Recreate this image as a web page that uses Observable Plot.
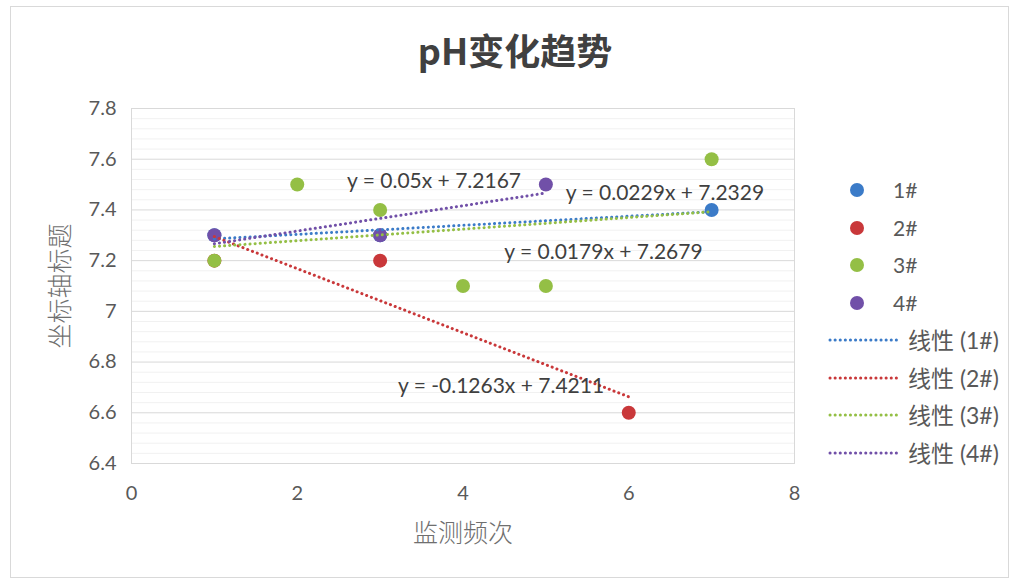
<!DOCTYPE html>
<html><head><meta charset="utf-8">
<script src="https://cdn.jsdelivr.net/npm/d3@7"></script>
<script src="https://cdn.jsdelivr.net/npm/@observablehq/plot@0.6"></script>
<style>
body{margin:0;background:#fff;}
#wrap{position:relative;width:1016px;height:582px;overflow:hidden;font-family:Lato,"Noto Sans CJK SC",sans-serif;background:#fff;}
#frame{position:absolute;left:10px;top:6px;width:999px;height:572px;border:1px solid #d9d9d9;box-sizing:border-box;pointer-events:none;}
#title{height:80px;line-height:98px;text-align:center;padding-left:14px;box-sizing:border-box;font-size:36px;font-weight:bold;color:#404040;font-family:"Noto Sans CJK SC",Lato,sans-serif;}
#title span{display:inline-block;line-height:1;}
#legend{position:absolute;left:0;top:0;}
.lg{position:absolute;height:26px;line-height:26px;font-size:21px;color:#595959;white-space:nowrap;}
.lg svg{position:absolute;top:0;}
.lt{font-size:23px;}
</style></head>
<body>
<div id="wrap">
  <div id="title"><span>pH变化趋势</span></div>
  <div id="chart"></div>
  <div id="legend"></div>
  <div id="frame"></div>
</div>
<script>
// ---- data ----
const seriesNames = ["1#", "2#", "3#", "4#"];
const seriesColors = ["#3B7BC8", "#C9383A", "#94BF45", "#7150A8"];
const x1 = [1, 3, 7];
const y1 = [7.3, 7.3, 7.4];
const x2 = [1, 3, 6];
const y2 = [7.2, 7.2, 6.6];
const x3 = [1, 2, 3, 4, 5, 7];
const y3 = [7.2, 7.5, 7.4, 7.1, 7.1, 7.6];
const x4 = [1, 3, 5];
const y4 = [7.3, 7.3, 7.5];
const xTicks = [0, 2, 4, 6, 8];
const yTicks = [6.4, 6.6, 6.8, 7, 7.2, 7.4, 7.6, 7.8];
const xTitle = "监测频次";
const yTitle = "坐标轴标题";
const trendPrefix = "线性";
// equation label anchors (data units) for series 1..4
const eqX = [5.695, 4.459, 6.437, 3.65];
const eqY = [7.232, 6.704, 7.465, 7.512];

const xs = [x1, x2, x3, x4], ys = [y1, y2, y3, y4];
const points = [];
seriesNames.forEach((s, i) => xs[i].forEach((x, j) => points.push({series: s, x, y: ys[i][j]})));

// linear regression per series
const trends = [], eqs = [];
seriesNames.forEach((s, i) => {
  const X = xs[i], Y = ys[i];
  const mx = d3.mean(X), my = d3.mean(Y);
  const sxy = d3.sum(X, (x, j) => (x - mx) * (Y[j] - my));
  const sxx = d3.sum(X, x => (x - mx) ** 2);
  const m = sxy / sxx, b = my - m * mx;
  const [lo, hi] = d3.extent(X);
  trends.push({series: s, x: lo, y: m * lo + b}, {series: s, x: hi, y: m * hi + b});
  const ms = +m.toFixed(4), bs = +b.toFixed(4);
  eqs.push({series: s, x: eqX[i], y: eqY[i], text: `y = ${ms}x + ${bs}`});
});

const minor = d3.range(0, 36).map(k => +(6.4 + k * 0.04).toFixed(2)).filter(v => Math.abs(v * 5 - Math.round(v * 5)) > 1e-6);

const chart = Plot.plot({
  width: 1016, height: 502,
  marginTop: 28, marginBottom: 119, marginLeft: 131, marginRight: 222,
  style: {fontFamily: 'Lato,"Noto Sans CJK SC",sans-serif', background: "transparent"},
  x: {domain: [0, 8]},
  y: {domain: [6.4, 7.8]},
  color: {domain: seriesNames, range: seriesColors},
  marks: [
    Plot.ruleY(minor, {stroke: "#f1f1f1", strokeWidth: 1}),
    Plot.gridY(yTicks, {stroke: "#d9d9d9", strokeOpacity: 1, strokeWidth: 1}),
    Plot.frame({stroke: "#d9d9d9"}),
    Plot.axisX(xTicks, {tickSize: 0, tickPadding: 22, fontSize: 20, fill: "#595959", label: null}),
    Plot.axisY(yTicks, {tickSize: 0, tickPadding: 15, fontSize: 20, fill: "#595959", label: null, tickFormat: d => String(+d.toFixed(1))}),
    Plot.text([xTitle], {frameAnchor: "bottom", textAnchor: "middle", lineAnchor: "middle", dy: 70, fontSize: 25, fill: "#6f6f6f", fontFamily: '"Noto Sans CJK SC",sans-serif', fontWeight: 300}),
    Plot.text([yTitle], {frameAnchor: "left", textAnchor: "middle", lineAnchor: "middle", dx: -71, rotate: -90, fontSize: 25, fill: "#6f6f6f", fontFamily: '"Noto Sans CJK SC",sans-serif', fontWeight: 300}),
    Plot.dot(points, {x: "x", y: "y", fill: "series", r: 7}),
    Plot.line(trends, {x: "x", y: "y", z: "series", stroke: "series", strokeWidth: 3, strokeDasharray: "0.1,5", strokeLinecap: "round"}),
    Plot.text(eqs, {x: "x", y: "y", text: "text", fontSize: 21, fill: "#404040"})
  ]
});
document.getElementById("chart").appendChild(chart);

// legend
const lg = document.getElementById("legend");
const rowY0 = 190, rowStep = 37.5;
seriesNames.forEach((s, i) => {
  const cy = rowY0 + i * rowStep;
  const d = document.createElement("div");
  d.className = "lg";
  d.style.left = "848px"; d.style.top = (cy - 13) + "px";
  d.innerHTML = `<svg width="20" height="26" style="left:0"><circle cx="9" cy="13" r="7" fill="${seriesColors[i]}"/></svg><span style="position:absolute;left:45px">${s}</span>`;
  lg.appendChild(d);
});
seriesNames.forEach((s, i) => {
  const cy = rowY0 + (i + 4) * rowStep;
  const d = document.createElement("div");
  d.className = "lg lt";
  d.style.left = "828px"; d.style.top = (cy - 13) + "px";
  d.innerHTML = `<svg width="72" height="26" style="left:0"><line x1="2" x2="70" y1="13" y2="13" stroke="${seriesColors[i]}" stroke-width="3" stroke-dasharray="0.1,5" stroke-linecap="round"/></svg><span style="position:absolute;left:80px">${trendPrefix} (${s})</span>`;
  lg.appendChild(d);
});
</script>
</body></html>
